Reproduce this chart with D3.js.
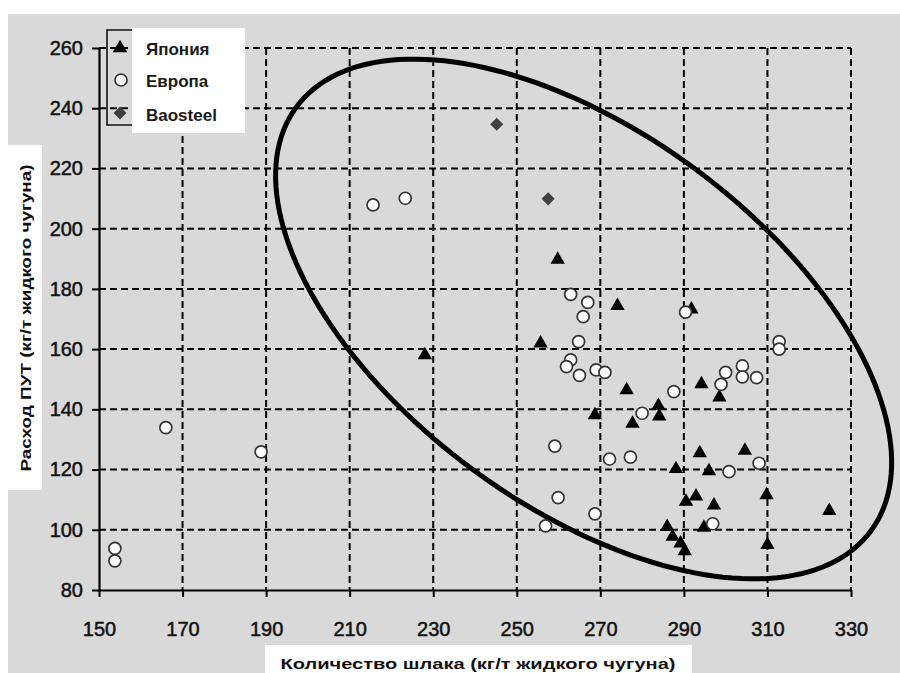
<!DOCTYPE html>
<html><head><meta charset="utf-8">
<script src="https://cdn.jsdelivr.net/npm/d3@7"></script>
<style>
html,body{margin:0;padding:0;background:#fff;}
svg{display:block;}
text{font-family:"Liberation Sans",Arial,sans-serif;}
</style></head>
<body>
<svg id="c" width="900" height="673"></svg>
<script>
// ---- data ----
const xTicks = [150,170,190,210,230,250,270,290,310,330];
const yTicks = [80,100,120,140,160,180,200,220,240,260];
const seriesNames = ["Япония","Европа","Baosteel"];
const xTitle = "Количество шлака (кг/т жидкого чугуна)";
const yTitle = "Расход ПУТ (кг/т жидкого чугуна)";

const japanX = [228.0,259.8,274.1,255.7,276.3,268.7,277.7,283.9,284.1,291.8,294.2,298.5,293.8,304.6,288.1,296.0,309.8,292.9,290.5,297.2,324.8,294.8,310.0,286.0,287.3,289.2,290.2];
const japanY = [158.0,189.7,174.4,161.9,146.4,138.1,135.3,141.2,137.7,173.2,148.4,144.0,125.5,126.3,120.2,119.5,111.5,111.1,109.4,108.1,106.3,100.7,95.0,101.0,97.7,95.5,92.9];

const europeX = [153.8,153.8,166.0,188.8,215.6,223.3,262.9,267.0,265.9,264.8,262.9,261.9,265.0,269.0,271.1,280.0,287.6,290.4,312.8,312.8,300.0,304.0,304.0,307.4,298.9,308.0,300.8,296.9,272.2,277.2,259.9,268.7,259.1,256.9];
const europeY = [93.8,89.7,133.9,125.9,207.9,210.1,178.2,175.5,170.8,162.5,156.4,154.2,151.3,153.1,152.3,138.7,145.9,172.3,162.5,160.0,152.3,154.4,150.8,150.5,148.3,122.1,119.3,102.0,123.5,124.1,110.7,105.3,127.8,101.3];

const baoX = [245.2,257.5];
const baoY = [234.7,209.9];

// ellipse annotation: centre in data units
const ellipseCenter = [266.0,170.0];

// ---- drawing ----
const svg = d3.select("#c");
const W = 900, H = 673;
const m = {left:99, top:48, right:49, bottom:83};
const x = d3.scaleLinear().domain([150,330]).range([m.left, W - m.right]);
const y = d3.scaleLinear().domain([80,260]).range([H - m.bottom, m.top]);

// backgrounds
svg.append("rect").attr("width",W).attr("height",H).attr("fill","#ffffff");
svg.append("rect").attr("x",8).attr("y",14).attr("width",W-8).attr("height",H-14).attr("fill","#d9d9d9");

// gridlines
const g = svg.append("g");
g.selectAll("line.vg").data(xTicks.slice(1)).join("line")
  .attr("x1",d=>x(d)).attr("x2",d=>x(d)).attr("y1",y(260)).attr("y2",y(80))
  .attr("stroke","#000").attr("stroke-width",2).attr("stroke-dasharray","7,4");
g.selectAll("line.hg").data(yTicks.slice(1)).join("line")
  .attr("x1",x(150)).attr("x2",x(330)).attr("y1",d=>y(d)).attr("y2",d=>y(d))
  .attr("stroke","#000").attr("stroke-width",2).attr("stroke-dasharray","7,4");

// axes
const xAxis = d3.axisBottom(x).tickValues(xTicks).tickSize(7).tickPadding(25).tickSizeOuter(0);
const yAxis = d3.axisLeft(y).tickValues(yTicks).tickSize(7).tickPadding(9).tickSizeOuter(0);
const gx = svg.append("g").attr("transform",`translate(0,${y(80)})`).call(xAxis);
const gy = svg.append("g").attr("transform",`translate(${x(150)},0)`).call(yAxis);
[gx,gy].forEach(a=>{
  a.select(".domain").attr("stroke","#000").attr("stroke-width",2.2);
  a.selectAll(".tick line").attr("stroke","#000").attr("stroke-width",2);
  a.selectAll(".tick text").attr("fill","#111").attr("stroke","#111").attr("stroke-width",0.5)
   .style("font-size","20px").style("font-family","'Liberation Sans',Arial,sans-serif");
});

// ellipse
const cxp = x(ellipseCenter[0]), cyp = y(ellipseCenter[1]);
const ea = 357, eb = 187, th = 36.4*Math.PI/180;
const ePts = d3.range(0,361,2).map(t=>{
  const r = t*Math.PI/180;
  return [cxp + ea*Math.cos(th)*Math.cos(r) - eb*Math.sin(th)*Math.sin(r),
          cyp + ea*Math.sin(th)*Math.cos(r) + eb*Math.cos(th)*Math.sin(r)];
});
svg.append("path").attr("d",d3.line().curve(d3.curveLinearClosed)(ePts))
  .attr("fill","none").attr("stroke","#000").attr("stroke-width",5);

// markers
const tri = d3.symbol().type(d3.symbolTriangle).size(90);
const dia = d3.symbol().type(d3.symbolSquare).size(85);
const japan = japanX.map((v,i)=>[v,japanY[i]]);
const europe = europeX.map((v,i)=>[v,europeY[i]]);
const bao = baoX.map((v,i)=>[v,baoY[i]]);

svg.append("g").selectAll("path").data(japan).join("path")
  .attr("d",tri).attr("transform",d=>`translate(${x(d[0])},${y(d[1])})`).attr("fill","#000");
svg.append("g").selectAll("circle").data(europe).join("circle")
  .attr("cx",d=>x(d[0])).attr("cy",d=>y(d[1])).attr("r",6)
  .attr("fill","#fff").attr("stroke","#333").attr("stroke-width",1.7);
svg.append("g").selectAll("path").data(bao).join("path")
  .attr("d",dia).attr("transform",d=>`translate(${x(d[0])},${y(d[1])}) rotate(45)`).attr("fill","#404040");

// legend
const lg = svg.append("g");
lg.append("rect").attr("x",132).attr("y",28).attr("width",113).attr("height",105).attr("fill","#fff");
lg.append("path").attr("d","M132,30H107V125H132").attr("fill","none").attr("stroke","#111").attr("stroke-width",1.6);
const ly = [48,80,113];
lg.append("path").attr("d",tri).attr("transform",`translate(120,${ly[0]})`).attr("fill","#000");
lg.append("circle").attr("cx",121).attr("cy",ly[1]).attr("r",6).attr("fill","#fff").attr("stroke","#333").attr("stroke-width",1.7);
lg.append("path").attr("d",dia).attr("transform",`translate(120,${ly[2]}) rotate(45)`).attr("fill","#404040");
lg.selectAll("text").data(seriesNames).join("text")
  .attr("x",146).attr("y",(d,i)=>[55,87,121][i]).text(d=>d)
  .style("font-size","17px").style("font-weight","bold").attr("fill","#1a1a1a");

// axis titles
svg.append("rect").attr("x",8).attr("y",145).attr("width",34).attr("height",345).attr("fill","#fff");
svg.append("text").attr("transform","translate(31,318) rotate(-90)").attr("text-anchor","middle")
  .attr("textLength",307).attr("lengthAdjust","spacingAndGlyphs")
  .style("font-size","15px").style("font-weight","bold").attr("fill","#111").text(yTitle);
svg.append("rect").attr("x",265).attr("y",645).attr("width",427).attr("height",28).attr("fill","#fff");
svg.append("text").attr("x",478).attr("y",669).attr("text-anchor","middle")
  .attr("textLength",395).attr("lengthAdjust","spacingAndGlyphs")
  .style("font-size","15px").style("font-weight","bold").attr("fill","#111").text(xTitle);
</script>
</body></html>
